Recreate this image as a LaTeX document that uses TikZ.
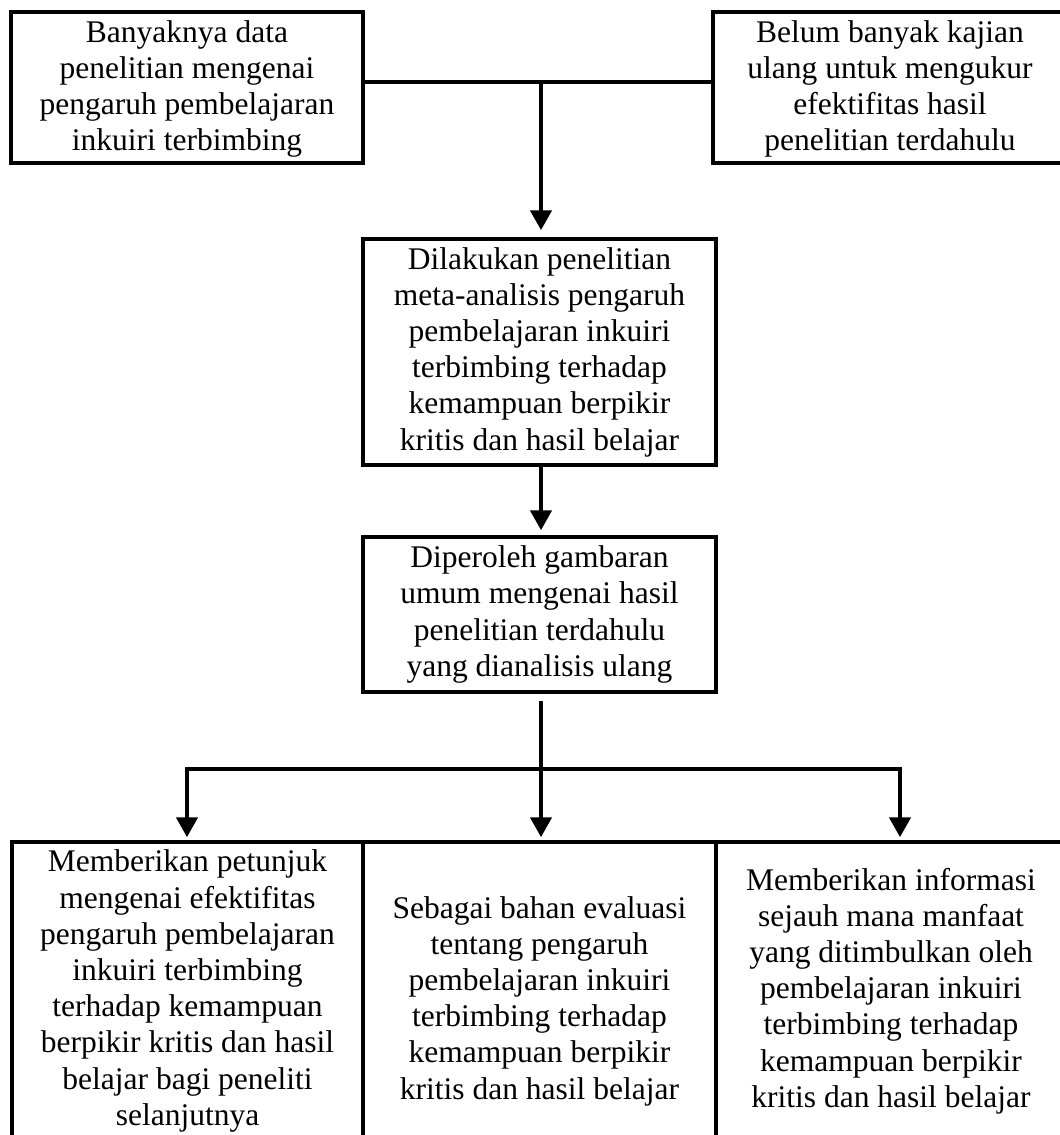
\documentclass[tikz,border=0pt]{standalone}
\usepackage{fontspec}
\setmainfont{Liberation Serif}
\usetikzlibrary{arrows.meta}
\begin{document}
\begin{tikzpicture}[x=1pt,y=-1pt,
  box/.style={draw, line width=3.5pt, rectangle, inner sep=0pt},
  txt/.style={align=center, font=\fontsize{31.5}{36.2}\selectfont, inner sep=0pt},
  conn/.style={line width=4.5pt},
  arr/.style={conn, -{Triangle[width=21pt,length=20pt]}}]
\useasboundingbox (0,0) rectangle (1060,1135);
% top boxes
\node[box, minimum width=352pt, minimum height=151pt] (tl) at (187,87.5) {};
\node[txt] (ttl) at (187,89) {Banyaknya data\\penelitian mengenai\\pengaruh pembelajaran\\inkuiri terbimbing};
\node[box, minimum width=354pt, minimum height=151pt] (tr) at (890,87.5) {};
\node[txt] (ttr) at (890,89) {Belum banyak kajian\\ulang untuk mengukur\\efektifitas hasil\\penelitian terdahulu};
% middle boxes
\node[box, minimum width=353pt, minimum height=226pt] (m1) at (539.5,352) {};
\node[txt] (tm1) at (539.5,352) {Dilakukan penelitian\\meta-analisis pengaruh\\pembelajaran inkuiri\\terbimbing terhadap\\kemampuan berpikir\\kritis dan hasil belajar};
\node[box, minimum width=353pt, minimum height=155pt] (m2) at (539.5,614.5) {};
\node[txt] (tm2) at (539.5,614.5) {Diperoleh gambaran\\umum mengenai hasil\\penelitian terdahulu\\yang dianalisis ulang};
% bottom boxes
\node[box, minimum width=351pt, minimum height=318pt] (b1) at (187.5,1001) {};
\node[txt] (tb1) at (187.5,991) {Memberikan petunjuk\\mengenai efektifitas\\pengaruh pembelajaran\\inkuiri terbimbing\\terhadap kemampuan\\berpikir kritis dan hasil\\belajar bagi peneliti\\selanjutnya};
\node[box, minimum width=353pt, minimum height=318pt] (b2) at (539.5,1001) {};
\node[txt] (tb2) at (539.5,1001) {Sebagai bahan evaluasi\\tentang pengaruh\\pembelajaran inkuiri\\terbimbing terhadap\\kemampuan berpikir\\kritis dan hasil belajar};
\node[box, minimum width=352pt, minimum height=318pt] (b3) at (892,1001) {};
\node[txt] (tb3) at (891,991) {Memberikan informasi\\sejauh mana manfaat\\yang ditimbulkan oleh\\pembelajaran inkuiri\\terbimbing terhadap\\kemampuan berpikir\\kritis dan hasil belajar};
% connectors
\coordinate (j1) at (541,82);
\draw[conn] (tl.east |- j1) -- (tr.west |- j1);
\draw[arr, shorten >=7pt] (j1) -- (m1.north -| j1);
\draw[arr, shorten >=5pt] (m1.south -| j1) -- (m2.north -| j1);
\coordinate (j2) at (541,769);
\coordinate (jl) at (187,769);
\coordinate (jr) at (900,769);
\draw[conn, shorten <=7pt] (m2.south -| j2) -- (j2);
\draw[conn, line cap=rect] (jl) -- (jr);
\draw[arr, shorten >=3pt] (jl) -- (b1.north -| jl);
\draw[arr, shorten >=3pt] (j2) -- (b2.north -| j2);
\draw[arr, shorten >=3pt] (jr) -- (b3.north -| jr);
\end{tikzpicture}
\end{document}
